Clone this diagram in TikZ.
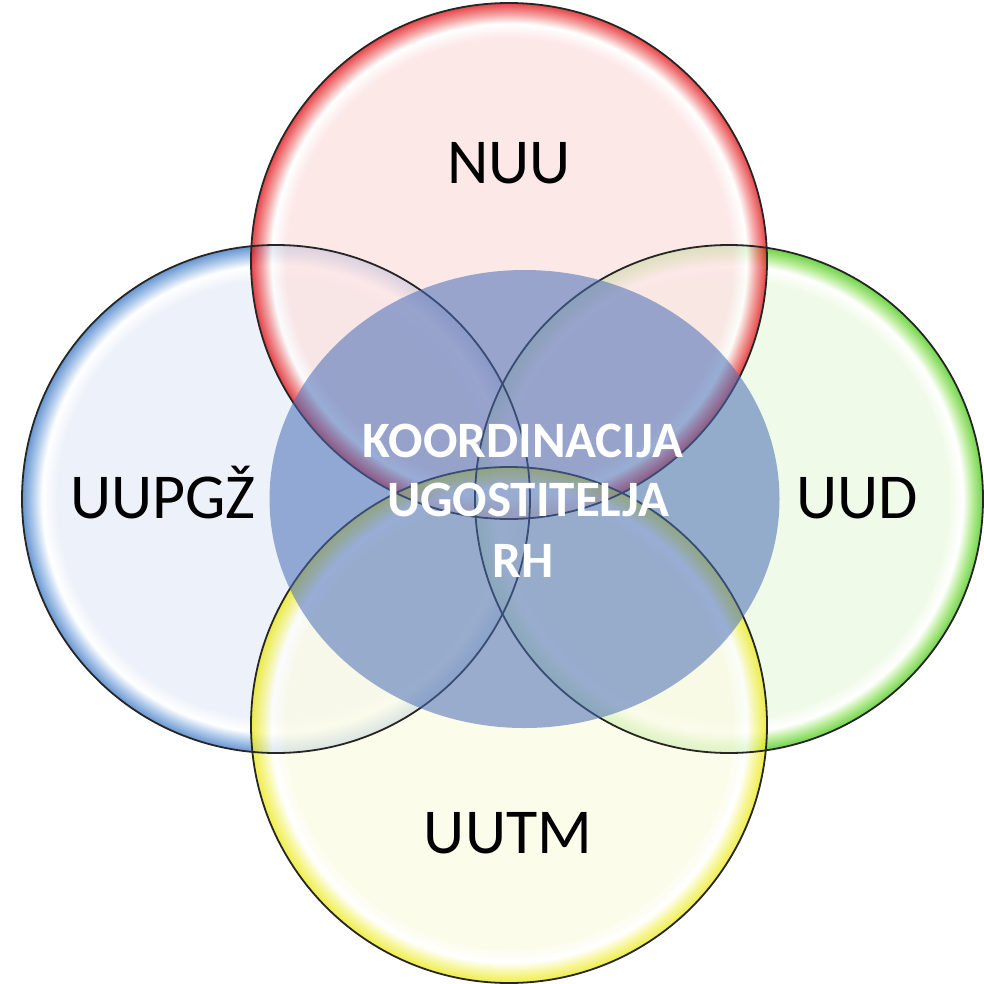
\documentclass[tikz,border=0pt]{standalone}
\usepackage{fontspec}
\setmainfont{Carlito}
\usetikzlibrary{shapes.geometric}
\definecolor{redin}{RGB}{252,226,226}
\definecolor{redmid}{RGB}{242,140,140}
\definecolor{redrim}{RGB}{225,15,20}
\definecolor{bluein}{RGB}{232,238,248}
\definecolor{bluemid}{RGB}{160,192,232}
\definecolor{bluerim}{RGB}{60,120,195}
\definecolor{greenin}{RGB}{236,249,226}
\definecolor{greenmid}{RGB}{170,232,130}
\definecolor{greenrim}{RGB}{70,200,20}
\definecolor{yellowin}{RGB}{251,251,230}
\definecolor{yellowmid}{RGB}{245,245,140}
\definecolor{yellowrim}{RGB}{235,232,20}
\definecolor{centerblue}{RGB}{72,108,182}
\pgfdeclareradialshading{redbub}{\pgfpoint{0bp}{0bp}}{color(0bp)=(redin); color(21.6bp)=(redin); color(23bp)=(white); color(23.9bp)=(redmid); color(25bp)=(redrim); color(50bp)=(redrim)}
\pgfdeclareradialshading{bluebub}{\pgfpoint{0bp}{0bp}}{color(0bp)=(bluein); color(21.6bp)=(bluein); color(23bp)=(white); color(23.9bp)=(bluemid); color(25bp)=(bluerim); color(50bp)=(bluerim)}
\pgfdeclareradialshading{greenbub}{\pgfpoint{0bp}{0bp}}{color(0bp)=(greenin); color(21.6bp)=(greenin); color(23bp)=(white); color(23.9bp)=(greenmid); color(25bp)=(greenrim); color(50bp)=(greenrim)}
\pgfdeclareradialshading{yellowbub}{\pgfpoint{0bp}{0bp}}{color(0bp)=(yellowin); color(21.6bp)=(yellowin); color(23bp)=(white); color(23.9bp)=(yellowmid); color(25bp)=(yellowrim); color(50bp)=(yellowrim)}
\tikzset{
  bubble/.style={circle, fill opacity=0.78, inner sep=0pt, minimum size=#1},
  rimline/.style={draw=black!85, line width=1.8pt},
  lbl/.style={font=\fontsize{64}{70}\selectfont, text=black, anchor=base, inner sep=0pt},
  ctext/.style={font=\bfseries\fontsize{51}{58}\selectfont, text=white, align=center, inner sep=0pt}
}
\begin{document}
\begin{tikzpicture}[x=1pt,y=-1pt]
\useasboundingbox (0,0) rectangle (984,984);
\node[bubble=508pt, shading=bluebub] (blue) at (276,499) {};
\node[bubble=508pt, shading=greenbub] (green) at (729,499) {};
\node[bubble=516pt, shading=redbub] (red) at (509,261) {};
\node[bubble=516pt, shading=yellowbub] (yellow) at (509,725) {};
\draw[rimline] (blue.center) circle[radius=254pt];
\draw[rimline] (green.center) circle[radius=254pt];
\draw[rimline] (red.center) circle[radius=258pt];
\draw[rimline] (yellow.center) circle[radius=258pt];
\node[ellipse, fill=centerblue, fill opacity=0.55, inner sep=0pt, minimum width=510pt, minimum height=458pt] (mid) at (524.5,499) {};
\node[lbl] (nuu) at (509,184) {NUU};
\node[lbl] (uupgz) at (163,518) {UUPGŽ};
\node[lbl] (uud) at (857,518) {UUD};
\node[lbl] (uutm) at (508,853) {UUTM};
\node[ctext, anchor=base] (k1) at (523,457) {KOORDINACIJA};
\node[ctext, anchor=base] (k2) at (528,516) {UGOSTITELJA};
\node[ctext, anchor=base] (k3) at (523,577) {RH};
\end{tikzpicture}
\end{document}
